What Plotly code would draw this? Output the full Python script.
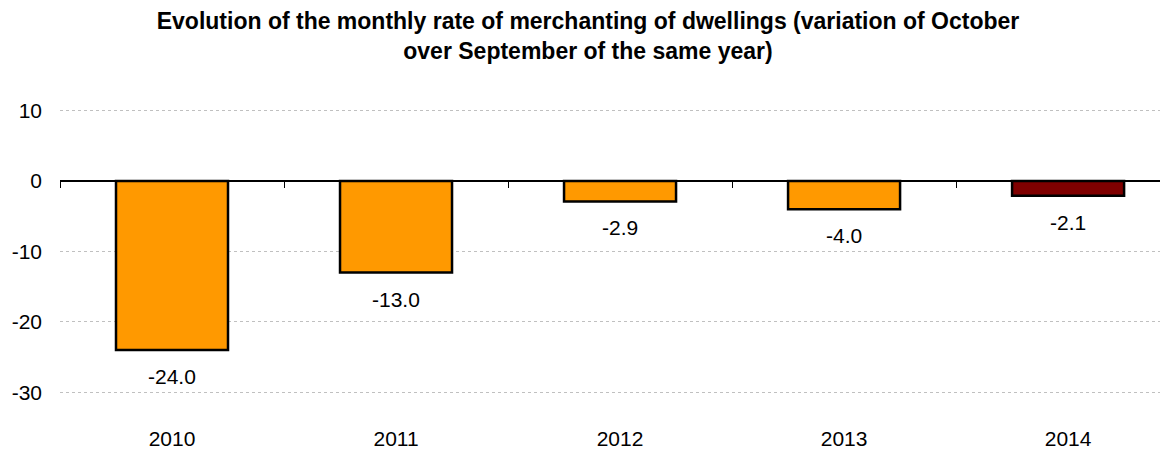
import plotly.graph_objects as go

years = ["2010", "2011", "2012", "2013", "2014"]
values = [-24.0, -13.0, -2.9, -4.0, -2.1]
bar_colors = ["#FF9900", "#FF9900", "#FF9900", "#FF9900", "#7F0000"]
y_ticks = [10, 0, -10, -20, -30]
title_text = ("<b>Evolution of the monthly rate of merchanting of dwellings (variation of October"
              "<br>over September of the same year)</b>")

FONT = "Arial, 'Liberation Sans', sans-serif"
y_min, y_max = -34.5, 10.5
x_min, x_max = -0.5, 4.446

# page body has an 8px margin, so the figure is a bit smaller than the window
W, H = 1160, 442
PX_PER_UNIT = 7.04
plot_h = (y_max - y_min) * PX_PER_UNIT
top_m = 99

fig = go.Figure()
fig.add_trace(go.Bar(
    x=list(range(len(years))), y=values,
    marker=dict(color=bar_colors, line=dict(color="black", width=2.5)),
    width=0.5, showlegend=False, hoverinfo="skip",
))
# helper trace for the tick axis on the zero line
fig.add_trace(go.Scatter(x=[], y=[], xaxis="x2", yaxis="y", showlegend=False, hoverinfo="skip"))

for i, v in enumerate(values):
    fig.add_annotation(x=i, y=v, text=f"{v:.1f}", showarrow=False, yanchor="top",
                       yshift=-13, font=dict(family=FONT, size=21, color="black"))

fig.update_layout(
    width=W, height=H,
    paper_bgcolor="white", plot_bgcolor="white",
    margin=dict(l=52, r=0, t=top_m, b=H - top_m - plot_h),
    title=dict(text=title_text, x=0.5, xanchor="center", y=1 - 21 / H, yanchor="top",
               font=dict(family=FONT, size=23, color="black")),
    font=dict(family=FONT, size=21, color="black"),
    xaxis=dict(range=[x_min, x_max], tickmode="array",
               tickvals=list(range(len(years))), ticktext=years,
               showgrid=False, showline=False, zeroline=False,
               ticks="", automargin=False, tickfont=dict(size=21), ticklabelstandoff=0),
    xaxis2=dict(overlaying="x", anchor="free", position=(0 - y_min) / (y_max - y_min),
                range=[x_min, x_max], tickmode="array",
                tickvals=[i - 0.5 for i in range(len(years) + 1)],
                ticks="outside", ticklen=6, tickwidth=1, tickcolor="black",
                showticklabels=False, showgrid=False, showline=False, zeroline=False,
                automargin=False),
    yaxis=dict(range=[y_min, y_max], tickmode="array", tickvals=y_ticks,
               ticktext=[str(t) for t in y_ticks],
               showgrid=True, gridcolor="#c0c0c0", gridwidth=1, griddash="dot",
               zeroline=True, zerolinecolor="black", zerolinewidth=2,
               showline=False, ticks="", ticklabelstandoff=17, automargin=False,
               tickfont=dict(size=21)),
)

fig.write_html("out.html")
